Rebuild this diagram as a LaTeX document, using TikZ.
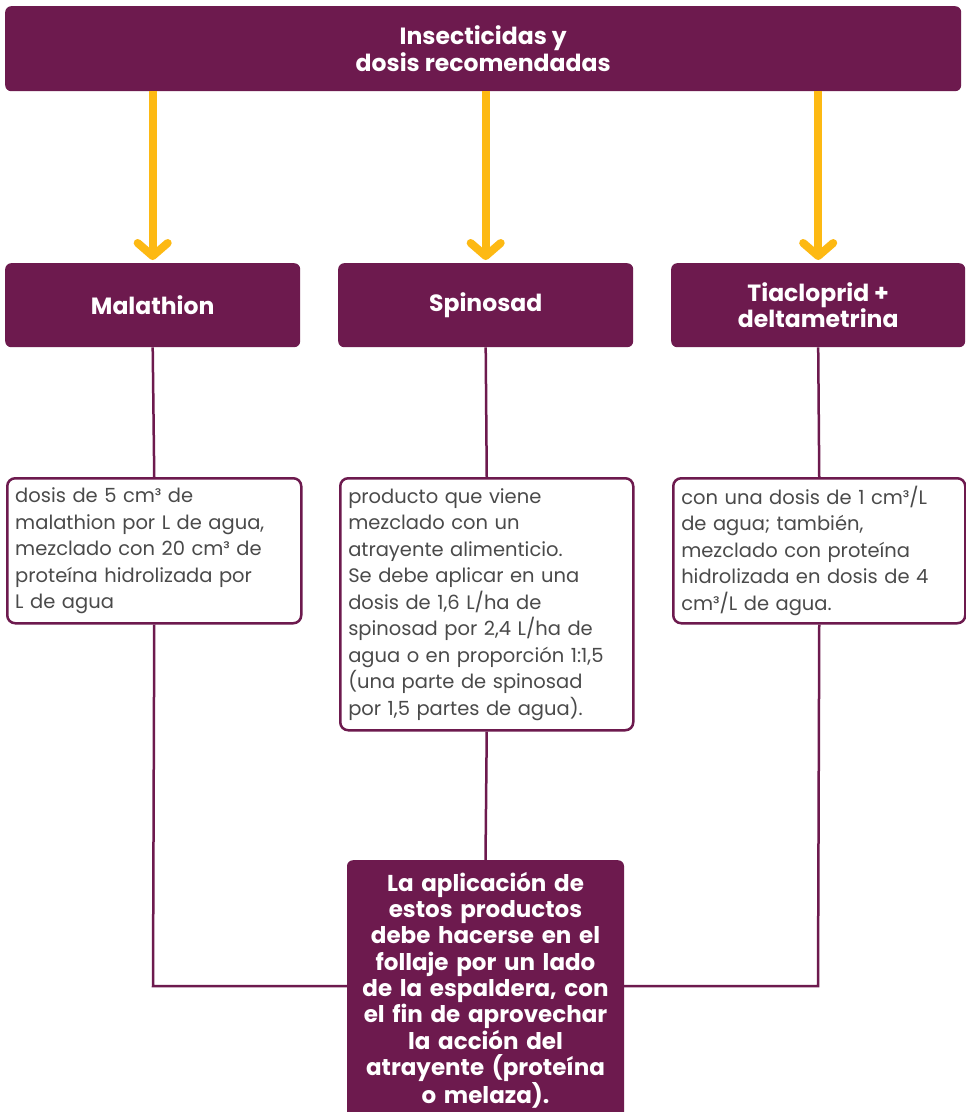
\documentclass[tikz,border=0pt]{standalone}
\usepackage{fontspec}
\setmainfont{Poppins}
\usetikzlibrary{arrows.meta}
\definecolor{plum}{HTML}{6D1A4E}
\definecolor{gold}{HTML}{FDB913}
\definecolor{txt}{HTML}{4A4A4A}
\begin{document}
\begin{tikzpicture}[x=1pt,y=-1pt,
  hdr/.style={fill=plum, rounded corners=6, text=white, font=\bfseries\fontsize{23.5}{26.5}\selectfont, align=center, inner sep=0pt, anchor=north west},
  body/.style={draw=plum, line width=2.5pt, fill=white, rounded corners=8, text=txt, font=\fontsize{19.5}{26.5}\selectfont, align=left, inner xsep=8pt, inner ysep=0pt, anchor=north west},
  link/.style={draw=plum, line width=2.5pt},
  arr/.style={draw=gold, line width=8pt, shorten >=3pt, -{Straight Barb[length=13pt, width=30pt, round]}}]
\clip (0,0) rectangle (966,1112);
\fill[white] (0,0) rectangle (966,1112);
\node[hdr, minimum width=956pt, minimum height=85pt] (top) at (5,6) {Insecticidas y\\dosis recomendadas};
\node[hdr, minimum width=295pt, minimum height=84pt] (m1) at (5,263) {Malathion};
\node[hdr, minimum width=295pt, minimum height=84pt] (m2) at (338,263) {Spinosad};
\node[hdr, minimum width=294pt, minimum height=84pt] (m3) at (671,263) {Tiacloprid +\\deltametrina};
\node[body, text width=278pt, minimum height=145pt] (t1) at (6,477) {dosis de 5 cm³ de\\malathion por L de agua,\\mezclado con 20 cm³ de\\proteína hidrolizada por\\L de agua};
\node[body, text width=277pt, minimum height=252pt] (t2) at (339,477) {producto que viene\\mezclado con un\\atrayente alimenticio.\\Se debe aplicar en una\\dosis de 1,6 L/ha de\\spinosad por 2,4 L/ha de\\agua o en proporción 1:1,5\\(una parte de spinosad\\por 1,5 partes de agua).};
\node[body, text width=276pt, minimum height=145pt] (t3) at (672,477) {con una dosis de 1 cm³/L\\de agua; también,\\mezclado con proteína\\hidrolizada en dosis de 4\\cm³/L de agua.};
\node[hdr, anchor=north, text width=277pt, inner ysep=12pt, font=\bfseries\fontsize{23}{26.3}\selectfont] (bot) at (485.5,860) {La aplicación de\\estos productos\\debe hacerse en el\\follaje por un lado\\de la espaldera, con\\el fin de aprovechar\\la acción del\\atrayente (proteína\\o melaza).\\[4pt]};
\draw[arr] (top.south -| m1.north) -- (m1.north);
\draw[arr] (top.south -| m2.north) -- (m2.north);
\draw[arr] (top.south -| m3.north) -- (m3.north);
\draw[link] (m1.south) -- (t1.north);
\draw[link] (m2.south) -- (t2.north);
\draw[link] (m3.south) -- (t3.north);
\coordinate (jl) at (153,986);
\coordinate (jr) at (818,986);
\draw[link] (t1.south) -- (jl) -- (jl -| bot.west);
\draw[link] (t3.south) -- (jr) -- (jr -| bot.east);
\draw[link] (t2.south) -- (bot.north);
\end{tikzpicture}
\end{document}
